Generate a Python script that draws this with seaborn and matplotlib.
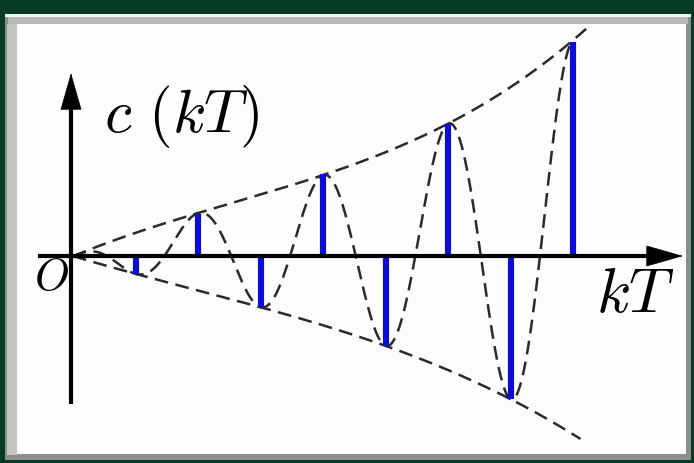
import numpy as np
import pandas as pd
import matplotlib
matplotlib.use("Agg")
import matplotlib.pyplot as plt
from matplotlib.patches import Rectangle, FancyArrowPatch
import seaborn as sns

# sampled output c(kT) at k = 1..8 (alternating sign, growing amplitude)
k_samples = [1, 2, 3, 4, 5, 6, 7, 8]
c_samples = [-0.9, 2.1, -2.55, 4.1, -4.5, 6.6, -7.15, 10.7]

# where the dashed envelope lines run out past the last samples
upper_end = (8.25, 11.55)
lower_end = (8.12, -9.15)

sns.set_theme(style="white")
plt.rcParams["mathtext.fontset"] = "cm"

W, H = 694, 464
fig = plt.figure(figsize=(W / 100, H / 100), dpi=100)
fig.patch.set_facecolor("#063a24")

# framed panel
fig.add_artist(Rectangle((5 / W, 1 - 461 / H), 686 / W, 446 / H, transform=fig.transFigure,
                         facecolor="#8e8e8e", edgecolor="none", zorder=-3))
fig.add_artist(Rectangle((5 / W, 1 - 18 / H), 686 / W, 3 / H, transform=fig.transFigure,
                         facecolor="#f4f4f4", edgecolor="none", zorder=-2))
fig.add_artist(Rectangle((8 / W, 1 - 25 / H), 680 / W, 7 / H, transform=fig.transFigure,
                         facecolor="#b8b8b8", edgecolor="none", zorder=-2))
fig.add_artist(Rectangle((7 / W, 1 - 456 / H), 10 / W, 431 / H, transform=fig.transFigure,
                         facecolor="#c4c4c4", edgecolor="none", zorder=-2))
fig.add_artist(Rectangle((17 / W, 1 - 455 / H), 669 / W, 430 / H, transform=fig.transFigure,
                         facecolor="#fdfdfd", edgecolor="none", zorder=-1))

# one data unit along x is one sampling period T
ox, oy, sx, sy = 73, 257, 62.5, 20.0
ax = fig.add_axes([0, 0, 1, 1])
ax.set_xlim(-ox / sx, (W - ox) / sx)
ax.set_ylim(-(H - oy) / sy, oy / sy)
ax.axis("off")
ax.patch.set_alpha(0)


def px(x, y):
    """pixel position -> data position"""
    return ((x - ox) / sx, (oy - y) / sy)


ks = np.array(k_samples, dtype=float)
cs = np.array(c_samples, dtype=float)

# envelopes through the positive / negative sample tips
ux = np.concatenate([[0.0], ks[cs > 0], [upper_end[0]]])
uy = np.concatenate([[0.0], cs[cs > 0], [upper_end[1]]])
lx = np.concatenate([[0.0], ks[cs < 0], [lower_end[0]]])
ly = np.concatenate([[0.0], -cs[cs < 0], [-lower_end[1]]])
up_poly = np.polyfit(ux, uy, 3)
lo_poly = np.polyfit(lx, ly, 3)

dash = dict(color="#2a2a2a", lw=1.8, linestyle=(0, (5.5, 3)), estimator=None, sort=False)

tu = np.linspace(0, upper_end[0], 200)
sns.lineplot(x=tu, y=np.polyval(up_poly, tu), ax=ax, **dash)
tl = np.linspace(0, lower_end[0], 200)
sns.lineplot(x=tl, y=-np.polyval(lo_poly, tl), ax=ax, **dash)

# continuous response oscillating between the two envelopes
t = np.linspace(0, 8, 600)
ph = np.cos(np.pi * t)
wave = np.polyval(up_poly, t) * (1 + ph) / 2 - np.polyval(lo_poly, t) * (1 - ph) / 2
sns.lineplot(x=t, y=wave, ax=ax, **dash)

# sample stems
ax.vlines(ks, 0, cs, color="#0a0ae6", lw=4.4, zorder=4)

# coordinate axes with arrow heads
x0, _ = px(38, oy)
x1, _ = px(668, oy)
ax.plot([x0, x1], [0, 0], color="black", lw=3, zorder=5, solid_capstyle="butt")
vx, yb = px(71, 405)
_, yt = px(71, 92)
ax.plot([vx, vx], [yb, yt], color="black", lw=3, zorder=5, solid_capstyle="butt")
for start, tip in [(px(650, oy), px(683, oy)), (px(71, 104), px(71, 74))]:
    ax.add_patch(FancyArrowPatch(start, tip, arrowstyle="-|>,head_length=1.4,head_width=0.4",
                                 mutation_scale=18, color="black", lw=0.5, zorder=6,
                                 shrinkA=0, shrinkB=0))

ax.text(*px(104, 132), r"$c\ (kT)$", fontsize=44, ha="left", va="baseline", color="black")
ax.text(*px(596, 312), r"$kT$", fontsize=45, ha="left", va="baseline", color="black")
ax.text(*px(34, 290), r"$O$", fontsize=32, ha="left", va="baseline", color="black")

fig.savefig("out.png", dpi=100, facecolor=fig.get_facecolor())
